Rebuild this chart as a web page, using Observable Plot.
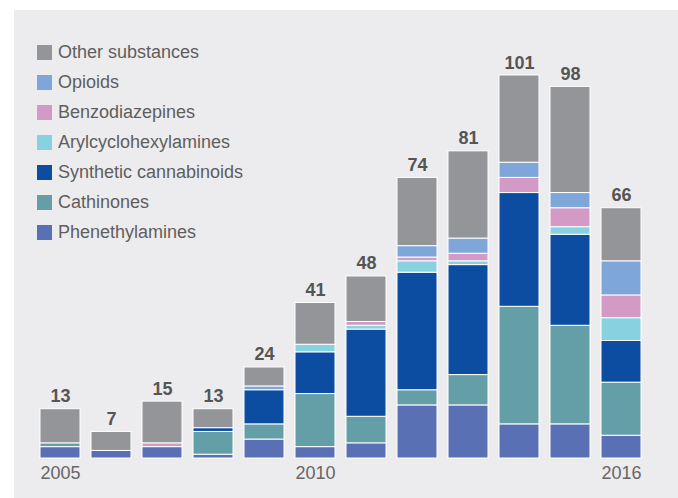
<!DOCTYPE html>
<html>
<head>
<meta charset="utf-8">
<script src="https://cdn.jsdelivr.net/npm/d3@7"></script>
<script src="https://cdn.jsdelivr.net/npm/@observablehq/plot@0.6"></script>
<style>
  html, body { margin: 0; padding: 0; background: #ffffff; width: 678px; height: 498px; overflow: hidden; }
  #panel { position: absolute; left: 14px; top: 10px; width: 664px; height: 488px; background: #ececee; }
  #chart { position: absolute; left: 0; top: 0; }
  #legend { position: absolute; left: 37px; top: 37px; font-family: "Liberation Sans", Arial, sans-serif; font-size: 18px; color: #5e5e5e; }
  .item { display: flex; align-items: center; height: 30px; }
  .sw { width: 15px; height: 15px; margin-right: 6px; }
</style>
</head>
<body>
<div id="panel"></div>
<div id="chart"></div>
<div id="legend"></div>
<script>
const years = [2005, 2006, 2007, 2008, 2009, 2010, 2011, 2012, 2013, 2014, 2015, 2016];
const tickYears = [2005, 2010, 2016];
// stacking order, bottom to top
const seriesNames = ["Phenethylamines", "Cathinones", "Synthetic cannabinoids", "Arylcyclohexylamines", "Benzodiazepines", "Opioids", "Other substances"];
const seriesColors = ["#5a70b5", "#649ea7", "#0c4da2", "#86d2e0", "#d39ac6", "#7ea6d8", "#939598"];

const phenethylamines       = [3, 2, 3, 1, 5, 3, 4, 14, 14, 9, 9, 6];
const cathinones            = [1, 0, 0, 6, 4, 14, 7, 4, 8, 31, 26, 14];
const syntheticCannabinoids = [0, 0, 0, 1, 9, 11, 23, 31, 29, 30, 24, 11];
const arylcyclohexylamines  = [0, 0, 0, 0, 0, 2, 1, 3, 1, 0, 2, 6];
const benzodiazepines       = [0, 0, 1, 0, 0, 0, 1, 1, 2, 4, 5, 6];
const opioids               = [0, 0, 0, 0, 1, 0, 0, 3, 4, 4, 4, 9];
const otherSubstances       = [9, 5, 11, 5, 5, 11, 12, 18, 23, 23, 28, 14];

const seriesValues = [phenethylamines, cathinones, syntheticCannabinoids, arylcyclohexylamines, benzodiazepines, opioids, otherSubstances];

const rows = [];
seriesNames.forEach((name, si) => {
  years.forEach((year, yi) => {
    const v = seriesValues[si][yi];
    if (v > 0) rows.push({year, series: name, value: v});
  });
});
const totals = years.map((year, yi) => ({year, total: d3.sum(seriesValues, s => s[yi])}));

const chart = Plot.plot({
  width: 678,
  height: 498,
  marginTop: 75,
  marginBottom: 40,
  marginLeft: 28,
  marginRight: 26,
  style: {background: "transparent", fontFamily: "Liberation Sans, Arial, sans-serif"},
  x: {type: "band", domain: years, padding: 0.22, label: null},
  y: {domain: [0, 101], axis: null},
  color: {domain: seriesNames, range: seriesColors},
  marks: [
    Plot.barY(rows, Plot.stackY({
      x: "year", y: "value", z: "series", fill: "series", order: seriesNames,
      stroke: "white", strokeWidth: 1
    })),
    Plot.text(totals, {
      x: "year", y: "total", text: d => String(d.total), dy: -7, lineAnchor: "bottom",
      fontSize: 18, fontWeight: "bold", fill: "#555"
    }),
    Plot.axisX({
      ticks: tickYears, tickSize: 0, tickPadding: 8, fontSize: 18, color: "#666", label: null,
      tickFormat: d => String(d)
    })
  ]
});
document.getElementById("chart").appendChild(chart);

const legend = document.getElementById("legend");
for (let i = seriesNames.length - 1; i >= 0; i--) {
  const item = document.createElement("div");
  item.className = "item";
  const sw = document.createElement("div");
  sw.className = "sw";
  sw.style.background = seriesColors[i];
  const label = document.createElement("span");
  label.textContent = seriesNames[i];
  item.appendChild(sw);
  item.appendChild(label);
  legend.appendChild(item);
}
</script>
</body>
</html>
